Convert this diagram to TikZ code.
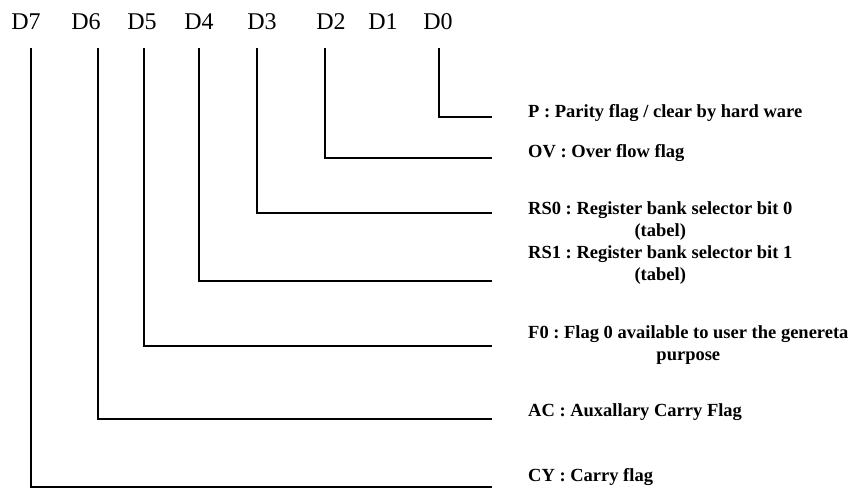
\documentclass[tikz,border=0pt]{standalone}
\usepackage{fontspec}
\setmainfont{Liberation Serif}
\frenchspacing

\begin{document}
\begin{tikzpicture}[x=1pt, y=-1pt,
  bit/.style={anchor=base, inner sep=0pt, font=\fontsize{24}{28}\selectfont},
  flag/.style={anchor=base west, inner sep=0pt, align=center, font=\bfseries\fontsize{18.5}{22}\selectfont},
  wire/.style={line width=1.8pt}]
  \useasboundingbox (0,0) rectangle (862,491);

  % Bit names
  \node[bit] (d7) at (26,29) {D7};
  \node[bit] (d6) at (86,29) {D6};
  \node[bit] (d5) at (142,29) {D5};
  \node[bit] (d4) at (199,29) {D4};
  \node[bit] (d3) at (262,29) {D3};
  \node[bit] (d2) at (331,29) {D2};
  \node[bit] (d1) at (383,29) {D1};
  \node[bit] (d0) at (438,29) {D0};

  % Flag descriptions (base = last line)
  \node[flag] (p) at (528,117) {P : Parity flag / clear by hard ware};
  \node[flag] (ov) at (528,157) {OV : Over flow flag};
  \node[flag] (rs0) at (528,236) {RS0 : Register bank selector bit 0\\(tabel)};
  \node[flag] (rs1) at (528,280) {RS1 : Register bank selector bit 1\\(tabel)};
  \node[flag] (f0) at (528,360) {F0 : Flag 0 available to user the genereta\\purpose};
  \node[flag] (ac) at (528,416) {AC : Auxallary Carry Flag};
  \node[flag] (cy) at (528,481) {CY : Carry flag};

  % Bit lines
  \draw[wire] ([xshift=1pt, yshift=-19pt]d0.south) |- ([xshift=-36pt]p.base west);
  \draw[wire] ([xshift=-6pt, yshift=-19pt]d2.south) |- ([xshift=-36pt, yshift=-1pt]ov.base west);
  \draw[wire] ([xshift=-5pt, yshift=-19pt]d3.south) |- ([xshift=-36pt, yshift=23pt]rs0.base west);
  \draw[wire] ([yshift=-19pt]d4.south) |- ([xshift=-36pt, yshift=-1pt]rs1.base west);
  \draw[wire] ([xshift=2pt, yshift=-19pt]d5.south) |- ([xshift=-36pt, yshift=14pt]f0.base west);
  \draw[wire] ([xshift=12pt, yshift=-19pt]d6.south) |- ([xshift=-36pt, yshift=-3pt]ac.base west);
  \draw[wire] ([xshift=5pt, yshift=-19pt]d7.south) |- ([xshift=-36pt, yshift=-6pt]cy.base west);
\end{tikzpicture}
\end{document}
